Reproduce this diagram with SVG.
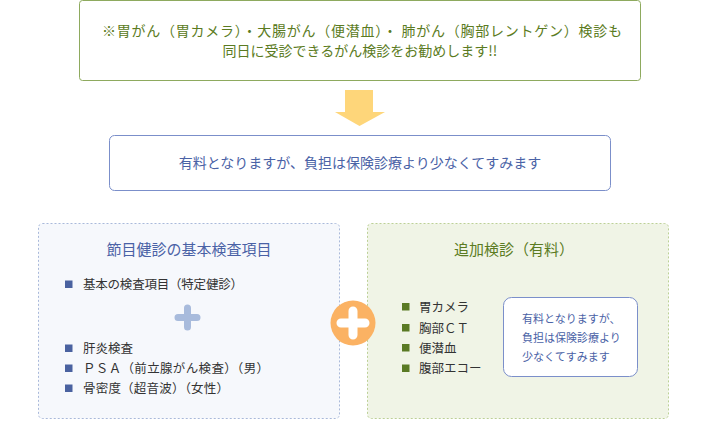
<svg xmlns="http://www.w3.org/2000/svg" width="705" height="421" viewBox="0 0 705 421">
<style>
text{font-family:"Noto Sans CJK JP","Noto Sans",sans-serif}
.g{fill:#5b7b22}
.b{fill:#4a62a6}
.k{fill:#333333;font-size:12.5px}
.t{font-size:15px;text-anchor:middle}
.bb{fill:#4a62a0}
.gb{fill:#5a7a24}
</style>
<rect width="705" height="421" fill="#ffffff"/>
<g id="top">
<rect x="79.5" y="0.5" width="561" height="80" rx="3" fill="#ffffff" stroke="#8eaa5e"/>
<text class="g" x="102" y="36" font-size="14" textLength="520" lengthAdjust="spacing">※胃がん（胃カメラ）・大腸がん（便潜血）・ 肺がん（胸部レントゲン）検診も</text>
<text class="g" x="360" y="56" font-size="14" text-anchor="middle">同日に受診できるがん検診をお勧めします!!</text>
</g>
<g id="connectors">
<polygon points="345,90 373,90 373,112 385,112 359.5,126 335,112 345,112" fill="#fed67a"/>
</g>
<g id="note">
<rect x="109.5" y="135.5" width="501" height="55" rx="5" fill="#ffffff" stroke="#7b8fca"/>
<text class="b" x="360" y="168" font-size="14" text-anchor="middle">有料となりますが、負担は保険診療より少なくてすみます</text>
</g>
<g id="basic">
<rect x="38.5" y="223.5" width="301" height="195" rx="4" fill="#f6f8fc" stroke="#a9b9da" stroke-dasharray="2,2"/>
<text class="b t" x="189" y="255">節目健診の基本検査項目</text>
<rect class="bb" x="65" y="280.5" width="7.5" height="7.5"/>
<text class="k" x="83" y="289" textLength="160" lengthAdjust="spacing">基本の検査項目（特定健診）</text>
<path d="M187.5 308v19M178 317.5h19" stroke="#a8bbdc" stroke-width="7" stroke-linecap="round"/>
<rect class="bb" x="65" y="344.5" width="7.5" height="7.5"/>
<text class="k" x="83" y="353">肝炎検査</text>
<rect class="bb" x="65" y="364.5" width="7.5" height="7.5"/>
<text class="k" x="83" y="373" textLength="186" lengthAdjust="spacing">ＰＳＡ（前立腺がん検査）（男）</text>
<rect class="bb" x="65" y="384.5" width="7.5" height="7.5"/>
<text class="k" x="83" y="393" textLength="146" lengthAdjust="spacing">骨密度（超音波）（女性）</text>
</g>
<g id="extra">
<rect x="367.5" y="223.5" width="301" height="195" rx="4" fill="#f0f4e6" stroke="#bcd096" stroke-dasharray="2,2"/>
<text class="g t" x="514" y="255">追加検診（有料）</text>
<rect class="gb" x="402" y="303" width="7.5" height="7.5"/>
<text class="k" x="419" y="311.5">胃カメラ</text>
<rect class="gb" x="402" y="324" width="7.5" height="7.5"/>
<text class="k" x="419" y="332.5">胸部ＣＴ</text>
<rect class="gb" x="402" y="344" width="7.5" height="7.5"/>
<text class="k" x="419" y="352.5">便潜血</text>
<rect class="gb" x="402" y="364.5" width="7.5" height="7.5"/>
<text class="k" x="419" y="373">腹部エコー</text>
<g id="extra-note">
<rect x="503.5" y="297.5" width="134" height="79" rx="8" fill="#ffffff" stroke="#7b8fca"/>
<text class="b" x="522" y="323" font-size="11">有料となりますが、</text>
<text class="b" x="522" y="342" font-size="11">負担は保険診療より</text>
<text class="b" x="522" y="361" font-size="11">少なくてすみます</text>
</g>
</g>
<g id="plus">
<circle cx="353" cy="323" r="22.5" fill="#fbb263"/>
<path d="M353 311v24M341 323h24" stroke="#ffffff" stroke-width="9" stroke-linecap="round"/>
</g>
</svg>
